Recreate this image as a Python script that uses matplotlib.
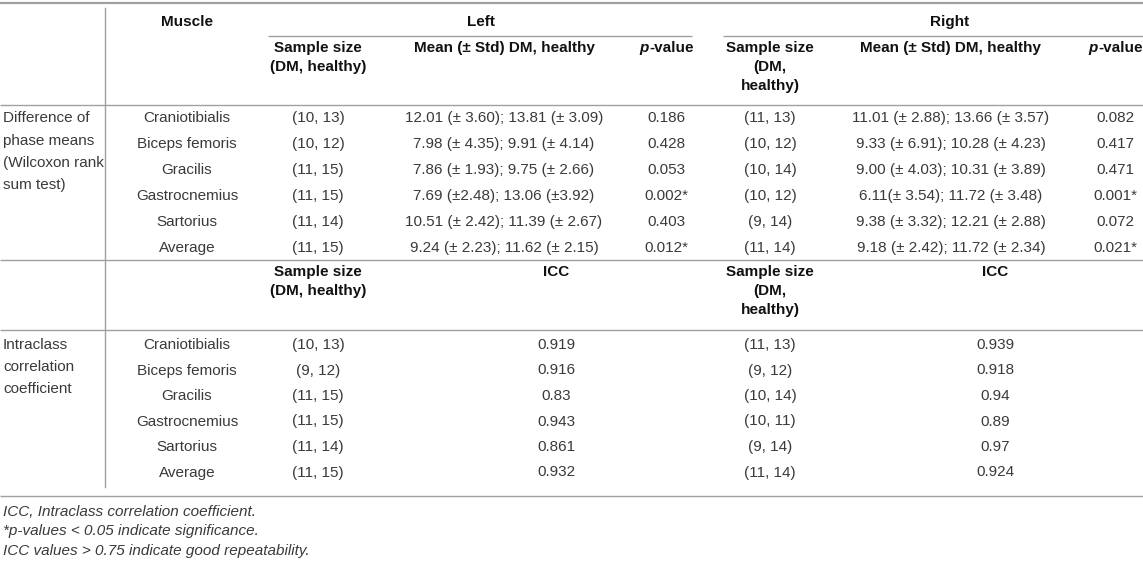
import matplotlib
matplotlib.use("Agg")
import matplotlib.pyplot as plt

# ---------------- data ----------------
muscles = ["Craniotibialis", "Biceps femoris", "Gracilis", "Gastrocnemius", "Sartorius", "Average"]

left_n = ["(10, 13)", "(10, 12)", "(11, 15)", "(11, 15)", "(11, 14)", "(11, 15)"]
left_mean = ["12.01 (\u00b1 3.60); 13.81 (\u00b1 3.09)",
             "7.98 (\u00b1 4.35); 9.91 (\u00b1 4.14)",
             "7.86 (\u00b1 1.93); 9.75 (\u00b1 2.66)",
             "7.69 (\u00b12.48); 13.06 (\u00b13.92)",
             "10.51 (\u00b1 2.42); 11.39 (\u00b1 2.67)",
             "9.24 (\u00b1 2.23); 11.62 (\u00b1 2.15)"]
left_p = ["0.186", "0.428", "0.053", "0.002*", "0.403", "0.012*"]

right_n = ["(11, 13)", "(10, 12)", "(10, 14)", "(10, 12)", "(9, 14)", "(11, 14)"]
right_mean = ["11.01 (\u00b1 2.88); 13.66 (\u00b1 3.57)",
              "9.33 (\u00b1 6.91); 10.28 (\u00b1 4.23)",
              "9.00 (\u00b1 4.03); 10.31 (\u00b1 3.89)",
              "6.11(\u00b1 3.54); 11.72 (\u00b1 3.48)",
              "9.38 (\u00b1 3.32); 12.21 (\u00b1 2.88)",
              "9.18 (\u00b1 2.42); 11.72 (\u00b1 2.34)"]
right_p = ["0.082", "0.417", "0.471", "0.001*", "0.072", "0.021*"]

icc_left_n = ["(10, 13)", "(9, 12)", "(11, 15)", "(11, 15)", "(11, 14)", "(11, 15)"]
icc_left = ["0.919", "0.916", "0.83", "0.943", "0.861", "0.932"]
icc_right_n = ["(11, 13)", "(9, 12)", "(10, 14)", "(10, 11)", "(9, 14)", "(11, 14)"]
icc_right = ["0.939", "0.918", "0.94", "0.89", "0.97", "0.924"]

group1_label = ["Difference of", "phase means", "(Wilcoxon rank", "sum test)"]
group2_label = ["Intraclass", "correlation", "coefficient"]

footnotes = ["ICC, Intraclass correlation coefficient.",
             "*p-values < 0.05 indicate significance.",
             "ICC values > 0.75 indicate good repeatability."]

# ---------------- layout ----------------
W, H = 1143, 563
fig = plt.figure(figsize=(W / 100, H / 100), dpi=100)
ax = fig.add_axes([0, 0, 1, 1])
ax.set_xlim(0, W)
ax.set_ylim(H, 0)
ax.axis("off")

FONT = "Liberation Sans"
FS = 11
DATA_C = "#3a3a3a"
HEAD_C = "#111111"
LINE_C = "#a0a0a0"

def t(x, y, s, ha="center", bold=False, italic=False, color=None, fs=FS):
    ax.text(x, y, s, ha=ha, va="center", fontsize=fs, family=FONT,
            fontweight="bold" if bold else "normal",
            fontstyle="italic" if italic else "normal",
            color=color or (HEAD_C if bold else DATA_C))

def hline(y, x0=0, x1=W, lw=1.0):
    ax.plot([x0, x1], [y, y], color=LINE_C, lw=lw, solid_capstyle="butt")

x_muscle = 187
x_ln, x_lm, x_lp = 318, 504, 666
x_rn, x_rm, x_rp = 770, 951, 1115
x_licc, x_ricc = 556, 995
x_vline = 105

# lines
hline(3, lw=1.6)
hline(36, 268, 692)
hline(36, 723, W)
hline(105)
hline(260)
hline(330)
hline(496)
ax.plot([x_vline, x_vline], [8, 487], color=LINE_C, lw=1.0)

# header
t(x_muscle, 22, "Muscle", bold=True)
t(481, 22, "Left", bold=True)
t(950, 22, "Right", bold=True)

t(x_ln, 48, "Sample size", bold=True)
t(x_ln, 67, "(DM, healthy)", bold=True)
t(x_lm, 48, "Mean (\u00b1 Std) DM, healthy", bold=True)

def pvalue_header(xc, y):
    split = xc - 17
    ax.text(split, y, "p", ha="right", va="center", fontsize=FS, family=FONT,
            fontweight="bold", fontstyle="italic", color=HEAD_C)
    ax.text(split, y, "-value", ha="left", va="center", fontsize=FS, family=FONT,
            fontweight="bold", color=HEAD_C)

pvalue_header(x_lp, 48)
t(x_rn, 48, "Sample size", bold=True)
t(x_rn, 67, "(DM,", bold=True)
t(x_rn, 86, "healthy)", bold=True)
t(x_rm, 48, "Mean (\u00b1 Std) DM, healthy", bold=True)
pvalue_header(x_rp, 48)

# section 1
rows1 = [118 + 26 * i for i in range(len(muscles))]
for k, lab in enumerate(group1_label):
    t(3, 118 + 22.5 * k, lab, ha="left")
for i, y in enumerate(rows1):
    t(x_muscle, y, muscles[i])
    t(x_ln, y, left_n[i])
    t(x_lm, y, left_mean[i])
    t(x_lp, y, left_p[i])
    t(x_rn, y, right_n[i])
    t(x_rm, y, right_mean[i])
    t(x_rp, y, right_p[i])

# section 2 header
t(x_ln, 272, "Sample size", bold=True)
t(x_ln, 291, "(DM, healthy)", bold=True)
t(x_licc, 272, "ICC", bold=True)
t(x_rn, 272, "Sample size", bold=True)
t(x_rn, 291, "(DM,", bold=True)
t(x_rn, 310, "healthy)", bold=True)
t(x_ricc, 272, "ICC", bold=True)

# section 2
rows2 = [345 + 25.5 * i for i in range(len(muscles))]
for k, lab in enumerate(group2_label):
    t(3, 345 + 22 * k, lab, ha="left")
for i, y in enumerate(rows2):
    t(x_muscle, y, muscles[i])
    t(x_ln, y, icc_left_n[i])
    t(x_licc, y, icc_left[i])
    t(x_rn, y, icc_right_n[i])
    t(x_ricc, y, icc_right[i])

# footnotes
for k, s in enumerate(footnotes):
    t(3, 512 + 19.5 * k, s, ha="left", italic=True, fs=11)

fig.savefig("out.png", dpi=100)
